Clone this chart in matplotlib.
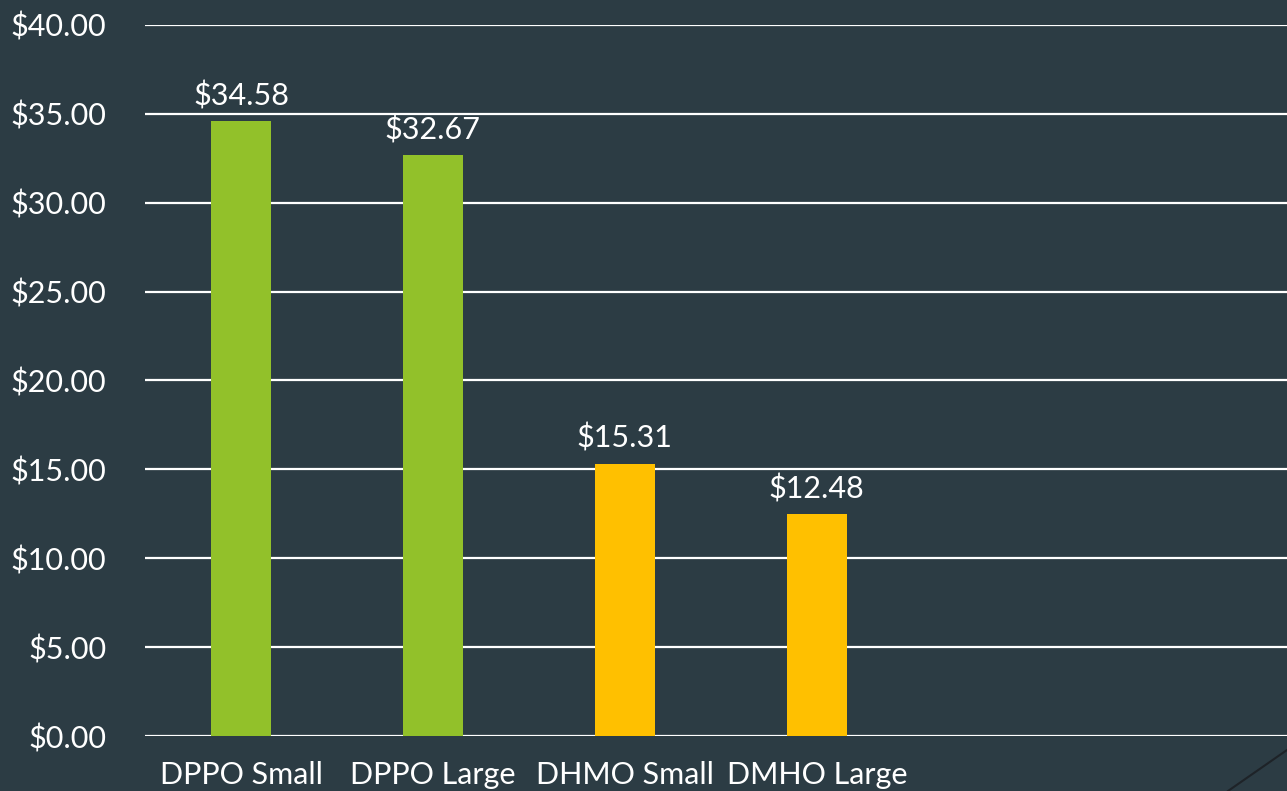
import matplotlib.pyplot as plt
from matplotlib.lines import Line2D

categories = ['DPPO Small', 'DPPO Large', 'DHMO Small', 'DMHO Large']
values = [34.58, 32.67, 15.31, 12.48]
colors = ['#92C12A', '#92C12A', '#FFC000', '#FFC000']
bg = '#2C3C44'

plt.rcParams['font.family'] = ['Lato', 'DejaVu Sans']

fig = plt.figure(figsize=(12.87, 7.91), dpi=100, facecolor=bg)
ax = fig.add_axes([145 / 1287, 55 / 791, 1 - 145 / 1287, 711 / 791])
ax.set_facecolor(bg)

x = range(len(categories))
bars = ax.bar(x, values, width=0.31, color=colors, zorder=3)
for b, v in zip(bars, values):
    ax.annotate(f'${v:.2f}', (b.get_x() + b.get_width() / 2, v),
                xytext=(0, 8), textcoords='offset points',
                ha='center', va='bottom', color='white', fontsize=22)

ax.set_xlim(-0.5, 5.45)
ax.set_ylim(0, 40)
ax.set_yticks(range(0, 41, 5))
ax.set_yticklabels([f'${t:.2f}' for t in range(0, 41, 5)])
ax.set_xticks(list(x))
ax.set_xticklabels(categories)
ax.tick_params(axis='both', length=0, colors='white', labelsize=22)
ax.tick_params(axis='y', pad=28)
ax.tick_params(axis='x', pad=18)
ax.grid(axis='y', color='white', linewidth=1.6, zorder=1)
for s in ax.spines.values():
    s.set_visible(False)

# decorative diagonal line at the bottom right
fig.add_artist(Line2D([1228 / 1287, 1.0], [0, 41 / 791], color='#1E2328',
                      linewidth=1.5, transform=fig.transFigure))

fig.savefig('out.png', dpi=100, facecolor=bg)
